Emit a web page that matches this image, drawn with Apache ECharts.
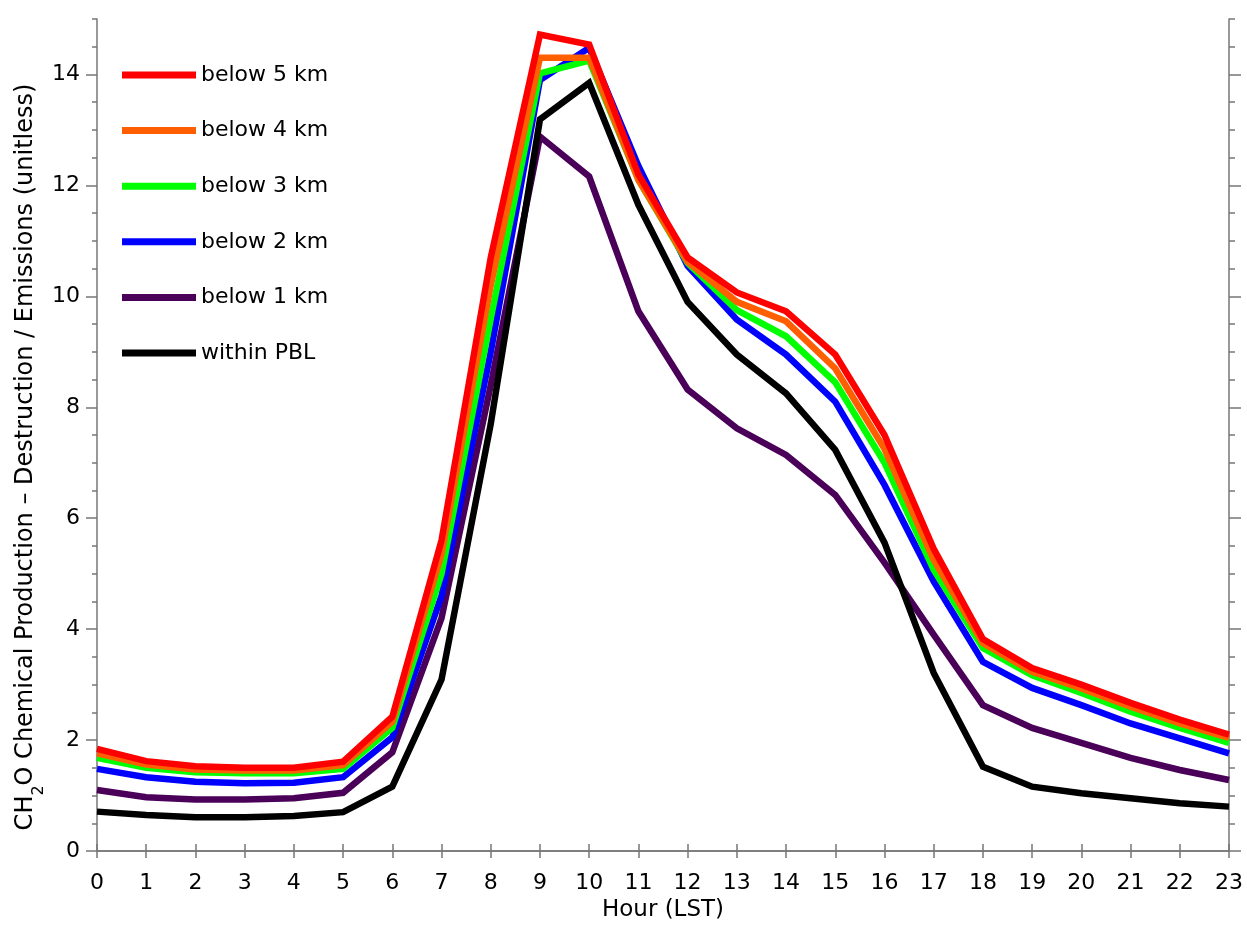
<!DOCTYPE html>
<html>
<head>
<meta charset="utf-8">
<script src="https://cdn.jsdelivr.net/npm/echarts@6/dist/echarts.min.js"></script>
<style>html,body{margin:0;padding:0;background:#fff}#c{width:1247px;height:930px}</style>
</head>
<body>
<div id="c"></div>
<script>
var hours = [0,1,2,3,4,5,6,7,8,9,10,11,12,13,14,15,16,17,18,19,20,21,22,23];
var below5km = [1.84,1.62,1.53,1.50,1.50,1.61,2.42,5.60,10.70,14.72,14.54,12.20,10.70,10.07,9.73,8.95,7.50,5.45,3.82,3.30,3.00,2.67,2.37,2.10];
var below4km = [1.76,1.56,1.47,1.45,1.45,1.55,2.33,5.35,10.20,14.30,14.30,12.10,10.62,9.90,9.55,8.70,7.25,5.25,3.75,3.23,2.93,2.60,2.30,2.04];
var below3km = [1.68,1.50,1.42,1.40,1.40,1.48,2.22,5.00,9.60,14.02,14.25,12.10,10.60,9.75,9.28,8.45,7.00,5.07,3.66,3.17,2.85,2.51,2.22,1.95];
var below2km = [1.48,1.33,1.25,1.22,1.23,1.33,2.05,4.60,9.00,13.90,14.48,12.35,10.55,9.58,8.95,8.10,6.60,4.86,3.41,2.94,2.63,2.30,2.03,1.76];
var below1km = [1.10,0.97,0.93,0.93,0.95,1.05,1.78,4.20,8.40,12.88,12.16,9.73,8.32,7.62,7.14,6.42,5.20,3.90,2.63,2.22,1.95,1.68,1.46,1.28];
var withinPBL = [0.71,0.65,0.61,0.61,0.63,0.70,1.16,3.09,7.70,13.19,13.85,11.65,9.90,8.95,8.25,7.23,5.56,3.21,1.52,1.16,1.04,0.95,0.86,0.80];
var yMajorTicks = [0,2,4,6,8,10,12,14];
var yMinorTicks = [0.5,1,1.5,2.5,3,3.5,4.5,5,5.5,6.5,7,7.5,8.5,9,9.5,10.5,11,11.5,12.5,13,13.5,14.5,15];
var seriesNames = ['below 5 km','below 4 km','below 3 km','below 2 km','below 1 km','within PBL'];
var seriesColors = ['#ff0000','#ff5f00','#00ff00','#0000ff','#4a0058','#000000'];
var seriesValues = [below5km, below4km, below3km, below2km, below1km, withinPBL];

var FONT = 'DejaVu Sans';
var axisColor = '#777';
function pairs(vals){ return hours.map(function(h,i){ return [h, vals[i]]; }); }

var drawOrder = [4,5,3,2,1,0];
var series = drawOrder.map(function(i){
  return {
    name: seriesNames[i], type: 'line', data: pairs(seriesValues[i]),
    showSymbol: false, symbol: 'none', smooth: false,
    lineStyle: { color: seriesColors[i], width: 6.5, join: 'miter', cap: 'butt' },
    itemStyle: { color: seriesColors[i] },
    emphasis: { disabled: true }, z: 3
  };
});

function yAxisBase(pos){
  return { type: 'value', min: 0, max: 15, position: pos, splitLine: { show: false } };
}

var option = {
  animation: false,
  backgroundColor: '#fff',
  textStyle: { fontFamily: FONT },
  grid: { left: 97, right: 18, top: 19, bottom: 79, containLabel: false, outerBoundsMode: 'none' },
  legend: {
    data: seriesNames, orient: 'vertical', left: 122, top: 64, padding: 0,
    icon: 'rect', itemWidth: 74, itemHeight: 7, itemGap: 33.6, itemTextGap: 5,
    textStyle: { fontFamily: FONT, fontSize: 22, color: '#000', lineHeight: 22 },
    selectedMode: false
  },
  xAxis: [
    { type: 'value', position: 'bottom', min: 0, max: 23, interval: 1,
      axisLine: { show: true, lineStyle: { color: axisColor, width: 1.5 } },
      axisTick: { show: true, length: 7, inside: false, lineStyle: { color: axisColor, width: 1.5 } },
      axisLabel: { fontFamily: FONT, fontSize: 22, color: '#000', margin: 21 },
      splitLine: { show: false },
      name: 'Hour (LST)', nameLocation: 'middle', nameGap: 48, nameMoveOverlap: false,
      nameTextStyle: { fontFamily: FONT, fontSize: 23, color: '#000' } },
    { type: 'value', position: 'top', min: 0, max: 23, interval: 1,
      axisLine: { show: true, lineStyle: { color: axisColor, width: 1.5 } },
      axisTick: { show: true, length: 7, inside: false, lineStyle: { color: axisColor, width: 1.5 } },
      axisLabel: { show: false }, splitLine: { show: false } }
  ],
  yAxis: [
    Object.assign(yAxisBase('left'), {
      axisLine: { show: true, lineStyle: { color: axisColor, width: 1.5 } },
      axisTick: { show: true, length: 11, inside: false, customValues: yMajorTicks, lineStyle: { color: axisColor, width: 1.5 } },
      axisLabel: { fontFamily: FONT, fontSize: 22, color: '#000', margin: 17, customValues: yMajorTicks },
      name: 'CH{sub|2}O Chemical Production \u2013 Destruction / Emissions (unitless)',
      nameLocation: 'middle', nameGap: 59, nameMoveOverlap: false,
      nameTextStyle: { fontFamily: FONT, fontSize: 24, color: '#000', padding: [0, 44, 0, 0],
        rich: { sub: { fontFamily: FONT, fontSize: 16, color: '#000', padding: [26,0,0,0], lineHeight: 16 } } }
    }),
    Object.assign(yAxisBase('left'), {
      axisLine: { show: false },
      axisTick: { show: true, length: 5, inside: false, customValues: yMinorTicks, lineStyle: { color: axisColor, width: 1.5 } },
      axisLabel: { show: false }
    }),
    Object.assign(yAxisBase('right'), {
      axisLine: { show: true, lineStyle: { color: axisColor, width: 1.5 } },
      axisTick: { show: true, length: 12, inside: false, customValues: yMajorTicks, lineStyle: { color: axisColor, width: 1.5 } },
      axisLabel: { show: false }
    }),
    Object.assign(yAxisBase('right'), {
      axisLine: { show: false },
      axisTick: { show: true, length: 6, inside: false, customValues: yMinorTicks, lineStyle: { color: axisColor, width: 1.5 } },
      axisLabel: { show: false }
    })
  ],
  series: series
};

var chart = echarts.init(document.getElementById('c'), null, { renderer: 'canvas' });
chart.setOption(option);
</script>
</body>
</html>
